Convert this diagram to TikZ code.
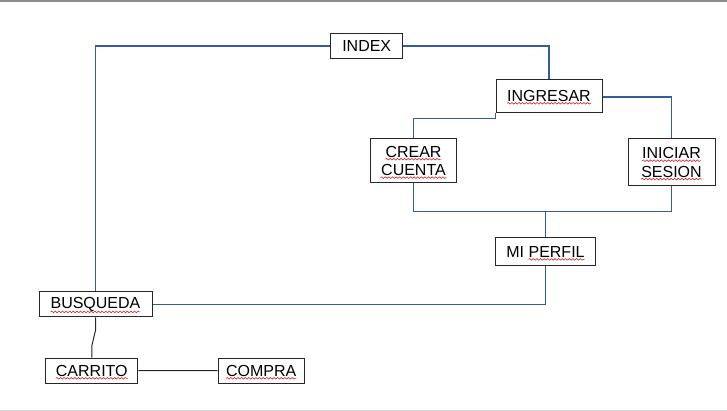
\documentclass[tikz,border=0pt]{standalone}
\usepackage{fontspec}
\setmainfont{Liberation Sans}
\usetikzlibrary{positioning,decorations,decorations.pathmorphing}
\definecolor{azul}{RGB}{52,92,150}
\definecolor{rojo}{RGB}{205,35,35}
\tikzset{caja/.style={draw=black!85, line width=1pt, inner sep=0pt, align=center, font=\fontsize{16}{18.4}\selectfont},
  enlace/.style={azul, line width=1.3pt},
  enlacen/.style={black!85, line width=1pt},
  ondas/.style={rojo, line width=.6pt, decorate, decoration={snake, amplitude=.8pt, segment length=3.6pt}}}

\begin{document}
\begin{tikzpicture}[x=1pt,y=-1pt]
      \useasboundingbox (0,0) rectangle (727,411);
      \draw[black!45, line width=2pt] (0,1) -- (727,1);
      \draw[black!15, line width=1pt] (0,410) -- (727,410);
      \node[caja, minimum width=71.5pt, minimum height=24.3pt] (index) at (366.7,46) {INDEX};
      \node[caja, minimum width=106pt, minimum height=33pt] (ingresar) at (549,95.7) {INGRESAR};
      \node[caja, minimum width=86pt, minimum height=44pt] (crear) at (413.5,161) {CREAR\\CUENTA};
      \node[caja, minimum width=87pt, minimum height=47pt] (iniciar) at (671.5,162.5) {INICIAR\\SESION};
      \node[caja, minimum width=99.7pt, minimum height=27.7pt] (perfil) at (545.5,251.8) {MI PERFIL};
      \node[caja, minimum width=113pt, minimum height=25.3pt] (busqueda) at (95.5,304.3) {BUSQUEDA};
      \node[caja, minimum width=92.3pt, minimum height=25.3pt] (carrito) at (91.8,370.7) {CARRITO};
      \node[caja, minimum width=86.3pt, minimum height=25.3pt] (compra) at (261.2,370.7) {COMPRA};
      \coordinate (union) at (545.5,211.5);
      \coordinate (quiebre) at (92,345);
      \draw[enlace] (index.west) -| (busqueda.north)
      (index.east) -| (ingresar.north)
      (ingresar.south west) -- ++(0,5.5) -| (crear.north)
      ([yshift=-1.2pt]ingresar.east) -| (iniciar.north)
      (crear.south) |- (union) -- (perfil.north)
      (iniciar.south) |- (union)
      (perfil.south) |- (busqueda.east);
      \draw[enlacen] (busqueda.south) -- ++(0,13) -- (quiebre) -- (carrito.north)
      (carrito) -- (compra);
      % subrayado del corrector
      \foreach \n/\dx/\dy/\w in {ingresar/0/7.6/83.6, crear/0/-1.8/56, crear/0/16.6/65.8,
        iniciar/0/-1.8/58.7, iniciar/0/16.6/60.5, perfil/11.1/7.6/56,
        busqueda/0/7.6/89.8, carrito/0/7.6/72, compra/0/7.6/70.2}
        \draw[ondas] ([shift={(\dx-\w/2,\dy)}]\n.center) -- ++(\w,0);
    \end{tikzpicture}
\end{document}
